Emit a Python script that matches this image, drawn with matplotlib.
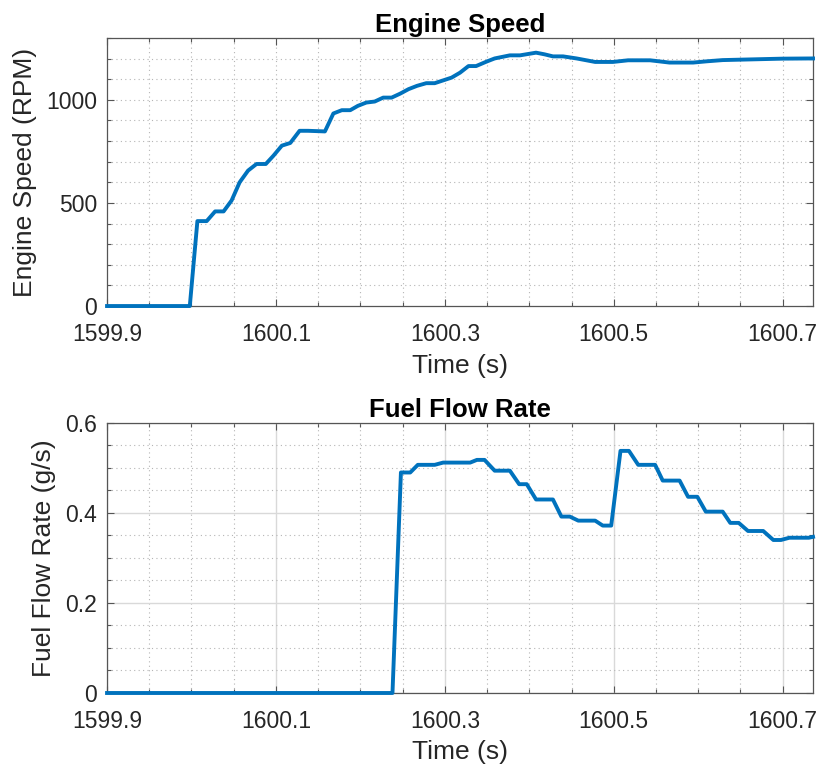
import numpy as np
import matplotlib
matplotlib.use('Agg')
import matplotlib.pyplot as plt
from matplotlib.ticker import MultipleLocator

##### DATA #####
t_speed = [1599.9, 1599.998, 1600.007, 1600.018, 1600.028, 1600.038, 1600.0475, 1600.057,
           1600.067, 1600.077, 1600.088, 1600.097, 1600.107, 1600.117, 1600.128, 1600.138,
           1600.158, 1600.168, 1600.178, 1600.188, 1600.197, 1600.207, 1600.217, 1600.227,
           1600.237, 1600.247, 1600.257, 1600.267, 1600.278, 1600.288, 1600.308, 1600.318,
           1600.328, 1600.337, 1600.349, 1600.359, 1600.377, 1600.389, 1600.408, 1600.418,
           1600.428, 1600.440, 1600.456, 1600.478, 1600.499, 1600.517, 1600.543, 1600.566,
           1600.594, 1600.610, 1600.629, 1600.649, 1600.700, 1600.736]
speed = [0, 0, 412, 412, 459, 459, 512, 600,
         657, 689, 689, 729, 778, 791, 850, 850,
         847, 934, 950, 950, 971, 987, 992, 1011,
         1011, 1030, 1052, 1068, 1081, 1081, 1108, 1132,
         1164, 1164, 1185, 1201, 1216, 1216, 1229, 1221,
         1211, 1211, 1201, 1184, 1184, 1192, 1192, 1181,
         1181, 1187, 1193, 1195, 1200, 1201]

t_fuel = [1599.9, 1600.238, 1600.248, 1600.259, 1600.268, 1600.288, 1600.298, 1600.330,
          1600.338, 1600.347, 1600.359, 1600.377, 1600.388, 1600.397, 1600.408, 1600.428,
          1600.438, 1600.448, 1600.458, 1600.478, 1600.487, 1600.497, 1600.508, 1600.518,
          1600.529, 1600.549, 1600.558, 1600.578, 1600.588, 1600.599, 1600.609, 1600.629,
          1600.638, 1600.648, 1600.659, 1600.677, 1600.689, 1600.698, 1600.708, 1600.731,
          1600.736]
fuel = [0, 0, 0.490, 0.490, 0.507, 0.507, 0.512, 0.512,
        0.518, 0.518, 0.494, 0.494, 0.464, 0.464, 0.430, 0.430,
        0.392, 0.392, 0.383, 0.383, 0.372, 0.372, 0.538, 0.538,
        0.507, 0.507, 0.472, 0.472, 0.436, 0.436, 0.403, 0.403,
        0.378, 0.378, 0.360, 0.360, 0.340, 0.340, 0.345, 0.345,
        0.347]

x_ticks = [1599.9, 1600.1, 1600.3, 1600.5, 1600.7]
x_ticklabels = ['1599.9', '1600.1', '1600.3', '1600.5', '1600.7']

LINE_COLOR = '#0072BD'
TXT = '#262626'
MINOR_GRID = dict(color='#b5b5b5', linestyle=(0, (1, 3)), linewidth=0.8)

plt.rcParams['font.family'] = ['Liberation Sans', 'DejaVu Sans']

fig = plt.figure(figsize=(8.24, 7.73), dpi=100)
ax1 = fig.add_axes([0.1299, 0.6041, 0.8568, 0.3467])
ax2 = fig.add_axes([0.1299, 0.1035, 0.8568, 0.3493])


def style_axes(ax, major_grid):
    ax.set_xlim(1599.9, 1600.736)
    ax.set_xticks(x_ticks)
    ax.set_xticklabels(x_ticklabels)
    ax.xaxis.set_minor_locator(MultipleLocator(0.05))
    ax.tick_params(which='both', direction='in', top=True, right=True,
                   colors='#555555', labelcolor=TXT, labelsize=16.5, length=5, width=0.8)
    ax.tick_params(which='minor', length=3)
    ax.tick_params(axis='x', pad=12)
    ax.tick_params(axis='y', pad=7)
    for s in ax.spines.values():
        s.set_color('#555555')
        s.set_linewidth(0.9)
    if major_grid:
        ax.grid(True, which='major', color='#d9d9d9', linestyle='-', linewidth=1.0)
    ax.grid(True, which='minor', **MINOR_GRID)
    ax.set_axisbelow(True)


ax1.plot(t_speed, speed, color=LINE_COLOR, linewidth=2.8, clip_on=False, zorder=3)
ax1.set_ylim(0, 1300)
ax1.set_yticks([0, 500, 1000])
ax1.yaxis.set_minor_locator(MultipleLocator(100))
style_axes(ax1, False)
# minor grid also passes through the major positions
for v in [500, 1000]:
    ax1.axhline(v, zorder=0, **MINOR_GRID)
for v in x_ticks[1:]:
    ax1.axvline(v, zorder=0, **MINOR_GRID)
ax1.set_title('Engine Speed', fontsize=18.5, fontweight='bold', color='black', pad=4)
ax1.set_xlabel('Time (s)', fontsize=19, color=TXT, labelpad=6)
ax1.set_ylabel('Engine Speed (RPM)', fontsize=19, color=TXT, labelpad=7)

ax2.plot(t_fuel, fuel, color=LINE_COLOR, linewidth=2.8, clip_on=False, zorder=3)
ax2.set_ylim(0, 0.6)
ax2.set_yticks([0, 0.2, 0.4, 0.6])
ax2.set_yticklabels(['0', '0.2', '0.4', '0.6'])
ax2.yaxis.set_minor_locator(MultipleLocator(0.05))
style_axes(ax2, True)
ax2.set_title('Fuel Flow Rate', fontsize=18.5, fontweight='bold', color='black', pad=4)
ax2.set_xlabel('Time (s)', fontsize=19, color=TXT, labelpad=5)
ax2.set_ylabel('Fuel Flow Rate (g/s)', fontsize=19, color=TXT, labelpad=7)

fig.savefig('out.png', dpi=100, facecolor='white')
